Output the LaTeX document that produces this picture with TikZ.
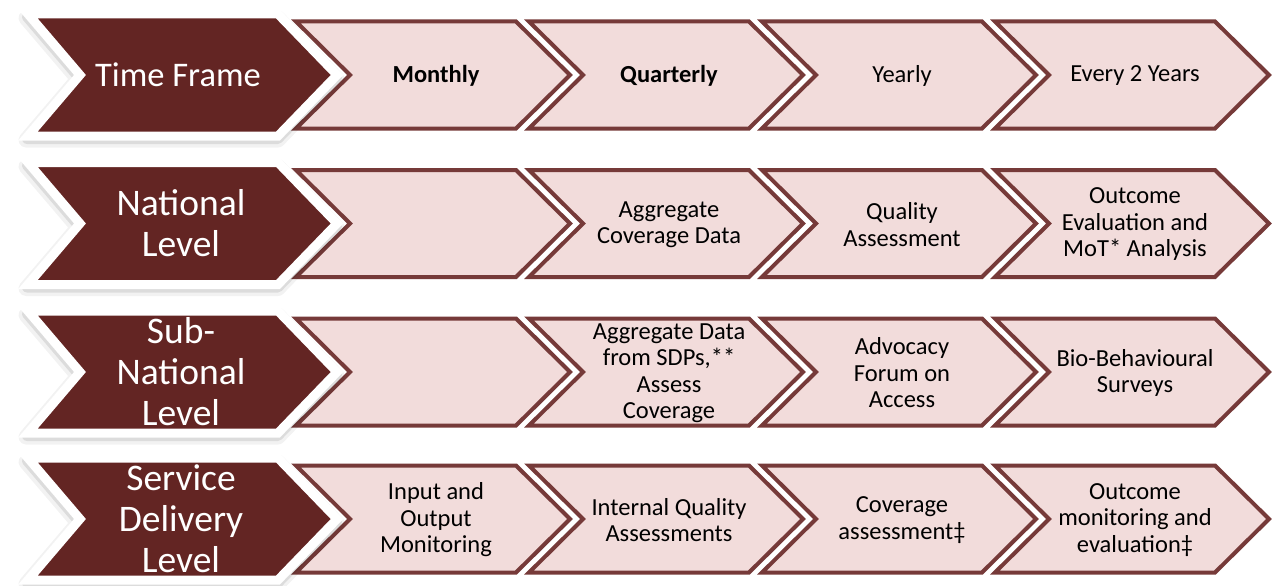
\documentclass[tikz,border=0pt]{standalone}
\usepackage{fontspec}
\setmainfont{Carlito}
\definecolor{darkred}{HTML}{632523}
\definecolor{lightpink}{HTML}{F2DCDB}
\definecolor{edgebrown}{HTML}{763A39}
\tikzset{
  darktext/.style={text=white, align=center, inner sep=0pt, font=\fontsize{37.5}{41}\selectfont},
  lighttext/.style={text=black, align=center, inner sep=0pt, font=\fontsize{24.5}{26.5}\selectfont},
  boldtext/.style={lighttext, font=\fontsize{24.5}{26.5}\selectfont\bfseries},
  lightchev/.style={fill=lightpink, draw=edgebrown, line width=4pt, line join=miter},
  darkchev/.style={fill=darkred, draw=white, line width=9pt, line join=miter},
  shadowA/.style={fill=black, draw=black, opacity=0.05, line width=15pt, line join=round},
  shadowB/.style={fill=black, draw=black, opacity=0.09, line width=10pt, line join=round},
}
\begin{document}
\begin{tikzpicture}[x=1pt,y=-1pt]
\useasboundingbox (0,0) rectangle (1272,586);
\foreach \c in {75,223.5,372,519}{
  \foreach \k in {0,...,3}{
    \pgfmathsetmacro\L{296+233*\k}
    \draw[lightchev] (\L,\c-53.5) -- ++(220,0) -- ++(54,53.5) -- ++(-54,53.5) -- ++(-220,0) -- ++(54,-53.5) -- cycle;
  }
  \draw[shadowA] (26,\c-57) -- (278,\c-57) -- (337,\c+4) -- (278,\c+65) -- (26,\c+65) -- (78,\c+4) -- cycle;
  \draw[shadowB] (27,\c-58) -- (278,\c-58) -- (337,\c+3) -- (278,\c+64) -- (27,\c+64) -- (79,\c+3) -- cycle;
  \draw[darkchev] (28,\c-61) -- (278,\c-61) -- (337,\c) -- (278,\c+61) -- (28,\c+61) -- (80,\c) -- cycle;
}
% row labels
\node[darktext, font=\fontsize{34.5}{41}\selectfont] (tf) at (178,75) {Time Frame};
\node[darktext] (nl) at (181,223.5) {National\\Level};
\node[darktext] (snl) at (181,372) {Sub-\\National\\Level};
\node[darktext] (sdl) at (181,519) {Service\\Delivery\\Level};
% time frame
\node[boldtext] (m) at (436,76) {Monthly};
\node[boldtext] (q) at (669,76) {Quarterly};
\node[lighttext] (y) at (902,76) {Yearly};
\node[lighttext] (e) at (1135,76) {Every 2 Years};
% national
\node[lighttext] (n2) at (669,224.5) {Aggregate\\Coverage Data};
\node[lighttext] (n3) at (902,224.5) {Quality\\Assessment};
\node[lighttext] (n4) at (1135,224.5) {Outcome\\Evaluation and\\MoT* Analysis};
% sub-national
\node[lighttext] (s2) at (669,373) {Aggregate Data\\from SDPs,**\\Assess\\Coverage};
\node[lighttext] (s3) at (902,373) {Advocacy\\Forum on\\Access};
\node[lighttext] (s4) at (1135,373) {Bio-Behavioural\\Surveys};
% service delivery
\node[lighttext] (d1) at (436,520) {Input and\\Output\\Monitoring};
\node[lighttext] (d2) at (669,520) {Internal Quality\\Assessments};
\node[lighttext] (d3) at (902,520) {Coverage\\assessment‡};
\node[lighttext] (d4) at (1135,520) {Outcome\\monitoring and\\evaluation‡};
\end{tikzpicture}
\end{document}
